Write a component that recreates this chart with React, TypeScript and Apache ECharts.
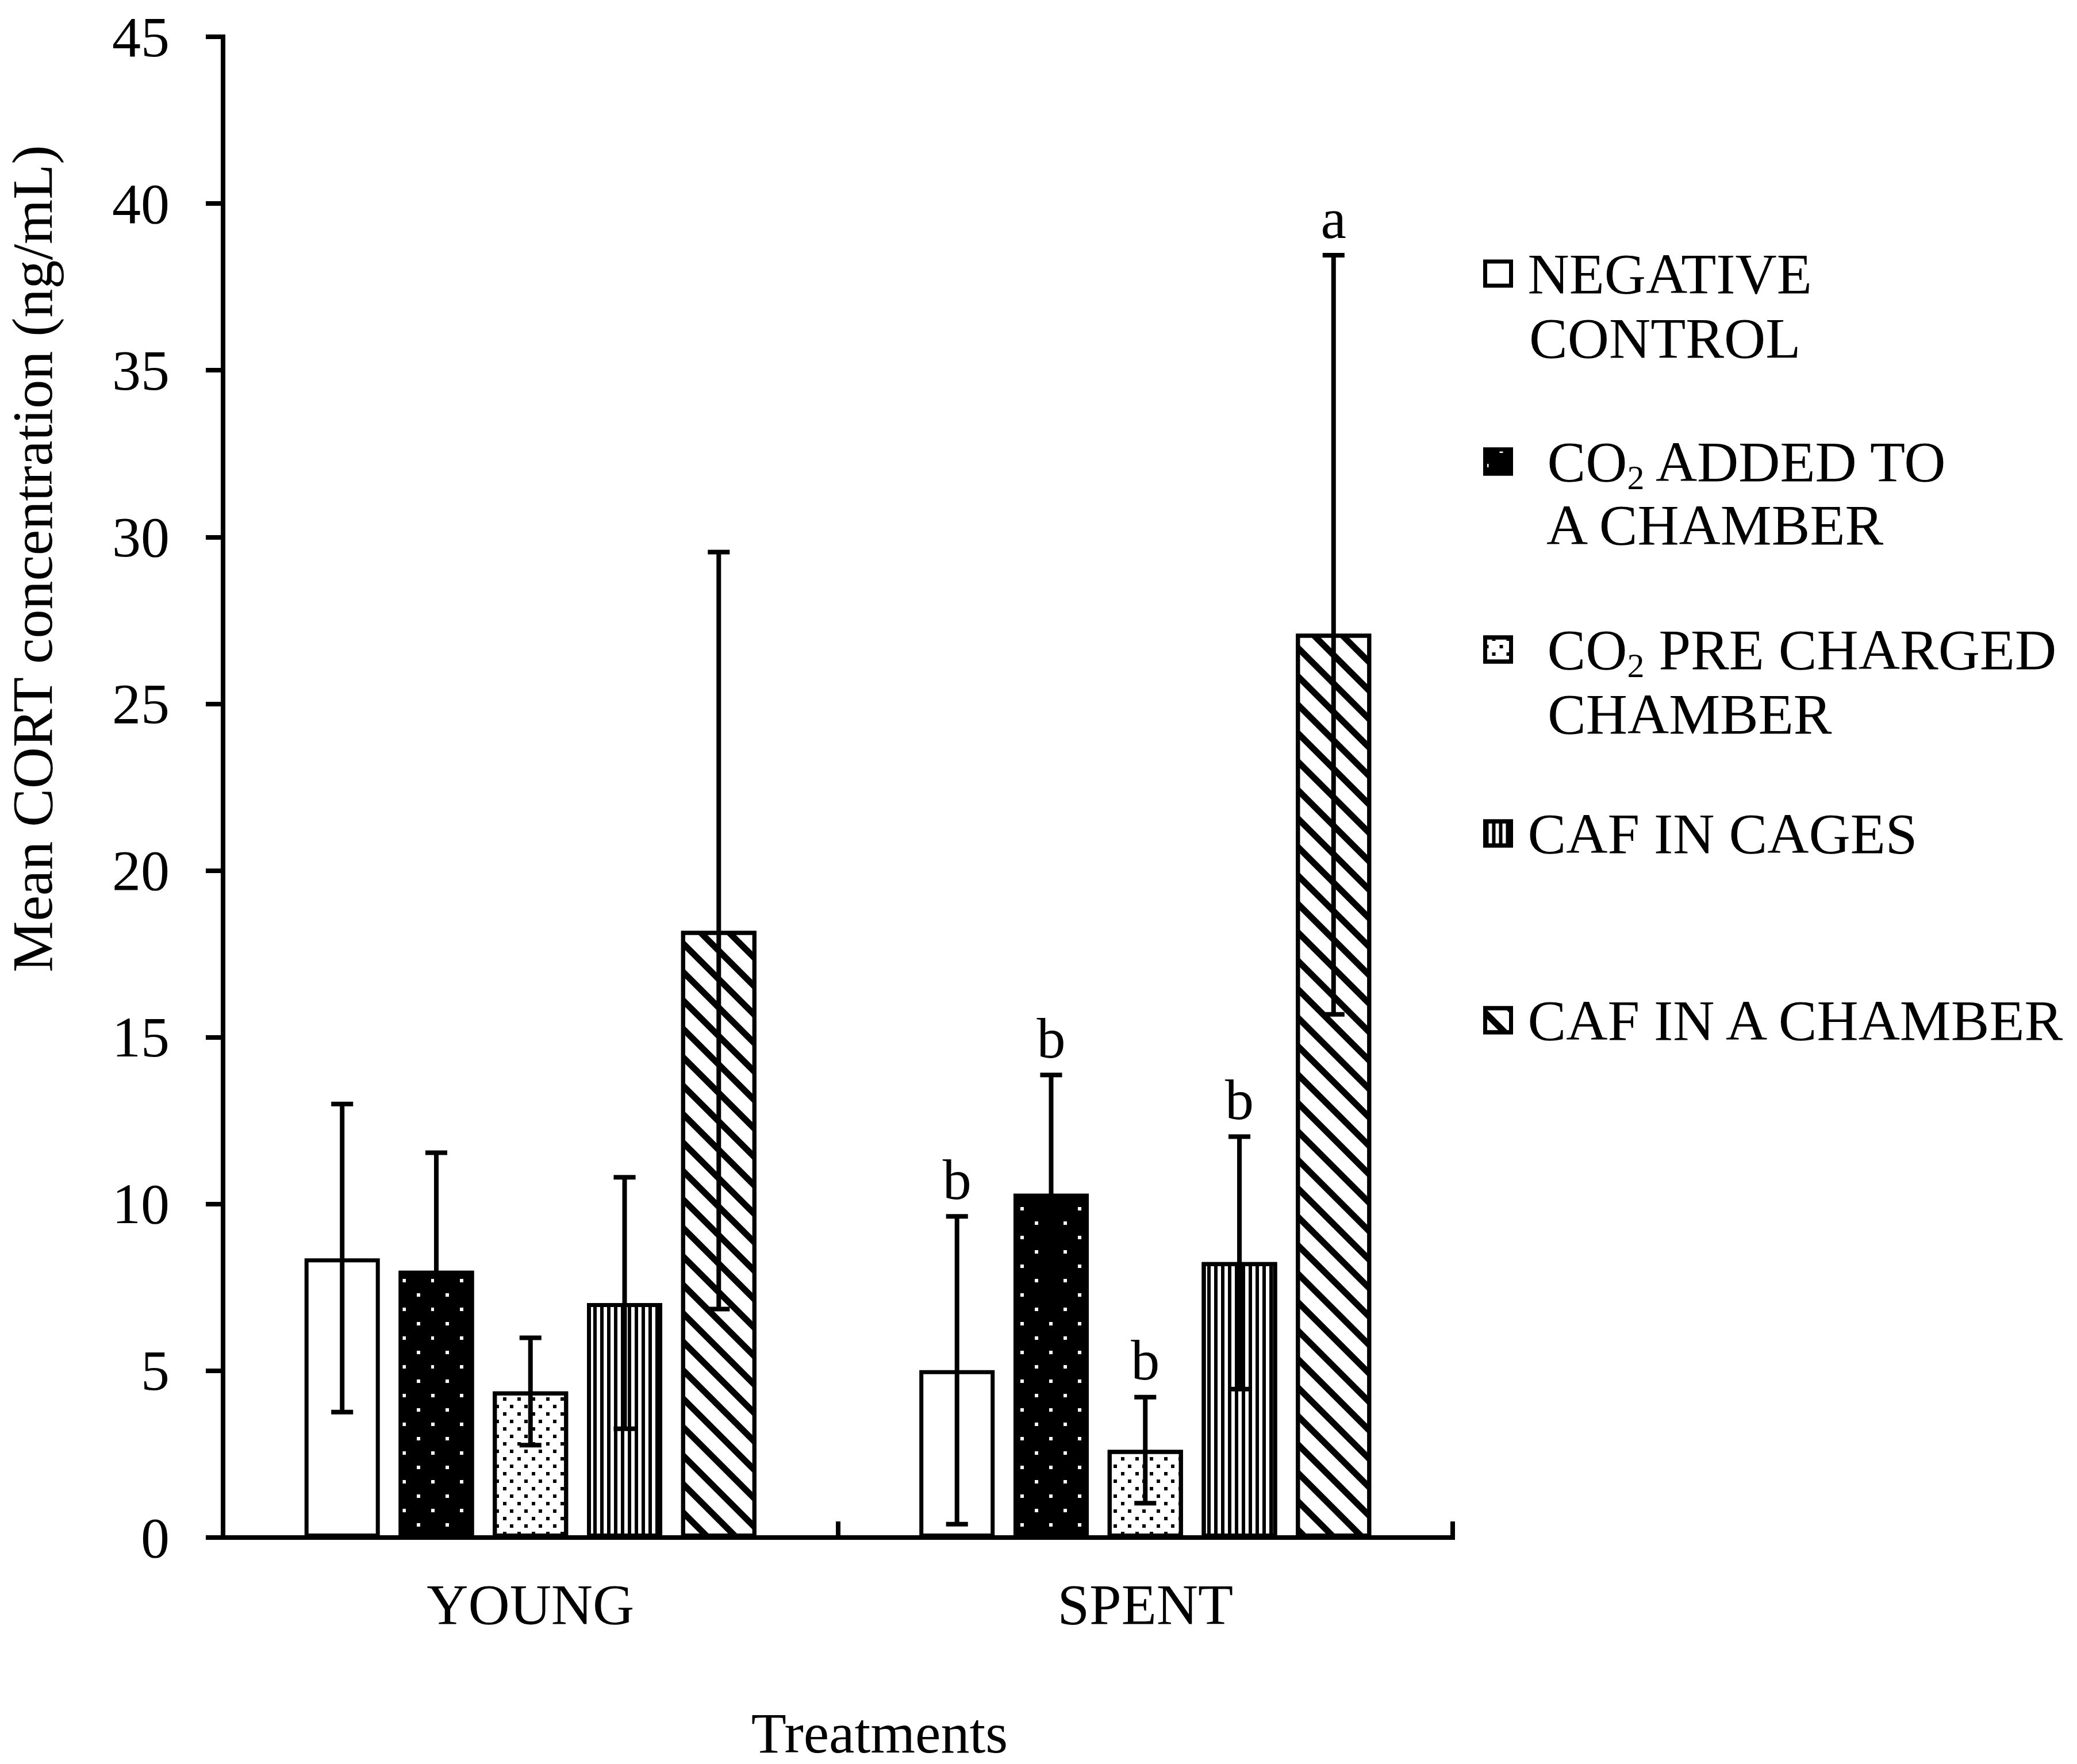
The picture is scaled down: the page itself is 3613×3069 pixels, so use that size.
import React, { useEffect, useRef } from 'react';
import * as echarts from 'echarts';

// ---------- data ----------
const categories = ['YOUNG', 'SPENT'];
const treatments = [
  'NEGATIVE CONTROL',
  'CO2 ADDED TO A CHAMBER',
  'CO2 PRE CHARGED CHAMBER',
  'CAF IN CAGES',
  'CAF IN A CHAMBER',
];
const youngMeans = [8.37, 8.0, 4.38, 7.03, 18.19];
const youngHigh = [13.0, 11.54, 5.99, 10.8, 29.55];
const youngLow = [3.76, 4.46, 2.77, 3.26, 6.85];
const spentMeans = [5.02, 10.31, 2.63, 8.26, 27.1];
const spentHigh = [9.63, 13.87, 4.21, 12.02, 38.45];
const spentLow = [0.4, 6.75, 1.03, 4.45, 15.69];
const youngLetters = ['', '', '', '', ''];
const spentLetters = ['b', 'b', 'b', 'b', 'a'];
const yMin = 0;
const yMax = 45;
const yStep = 5;

const legendLine1 = [
  '{n|NEGATIVE}',
  '{n|CO}{s|2}{n| ADDED TO}',
  '{n|CO}{s|2}{n| PRE CHARGED}',
  '{n|CAF IN CAGES}',
  '{n|CAF IN A CHAMBER}',
];
const legendLine2 = ['CONTROL', 'A CHAMBER', 'CHAMBER', '', ''];

// ---------- style / layout ----------
const FONT = "'Liberation Serif', 'Times New Roman', serif";
const BAR_W = 0.1225; // fraction of band
const BAR_GAP = 0.25; // fraction of bar width
const CAP = 0.0178; // half cap width as fraction of band
const fills = ['#ffffff', '#000000', '#ffffff', '#ffffff', '#ffffff'];
const decals: any[] = [
  undefined,
  {
    symbol: 'rect', symbolSize: 1, symbolKeepAspect: false, color: '#ffffff',
    dashArrayX: [[6, 44], [0, 25, 6, 19]], dashArrayY: [6, 19],
  },
  {
    symbol: 'rect', symbolSize: 1, symbolKeepAspect: false, color: '#000000',
    dashArrayX: [[6, 19], [0, 12, 6, 7]], dashArrayY: [6, 7],
  },
  {
    symbol: 'rect', symbolSize: 1, symbolKeepAspect: false, color: '#000000',
    dashArrayX: [6, 6], dashArrayY: [400, 0],
  },
  {
    symbol: 'rect', symbolSize: 1, symbolKeepAspect: false, color: '#000000',
    dashArrayX: [400, 0], dashArrayY: [11, 24], rotation: Math.PI / 4,
  },
];
const legendCenters = [476, 803, 1130, 1450, 1775];
const legendTextPad = [24, 58, 58, 24, 24];
const line2Pos = [
  [2660, 588],
  [2690, 913],
  [2692, 1242],
];

export default function App() {
  const ref = useRef<HTMLDivElement>(null);
  useEffect(() => {
    if (!ref.current) return;
    const chart = echarts.init(ref.current, undefined, { renderer: 'svg' });

    const barSeries = treatments.map((name, k) => ({
      name,
      type: 'bar',
      barWidth: BAR_W * 100 + '%',
      barGap: BAR_GAP * 100 + '%',
      data: [youngMeans[k], spentMeans[k]],
      itemStyle: {
        color: fills[k],
        borderColor: '#000',
        borderWidth: 7,
        ...(decals[k] ? { decal: decals[k] } : {}),
      },
      emphasis: { disabled: true },
      silent: true,
      z: 2,
    }));

    const errData: number[][] = [];
    const errLetters: string[] = [];
    treatments.forEach((_, k) => {
      errData.push([0, k, youngLow[k], youngHigh[k]]);
      errLetters.push(youngLetters[k]);
      errData.push([1, k, spentLow[k], spentHigh[k]]);
      errLetters.push(spentLetters[k]);
    });

    const errSeries = {
      type: 'custom',
      coordinateSystem: 'cartesian2d',
      z: 5,
      silent: true,
      encode: { x: 0, y: [2, 3] },
      data: errData,
      renderItem: (params: any, api: any) => {
        const c = api.value(0);
        const k = api.value(1);
        const lo = api.value(2);
        const hi = api.value(3);
        const band = api.size([1, 0])[0];
        const step = band * BAR_W * (1 + BAR_GAP);
        const hiPt = api.coord([c, hi]);
        const loPt = api.coord([c, lo]);
        const x = hiPt[0] + (k - 2) * step;
        const half = band * CAP;
        const ls = { stroke: '#000', lineWidth: 8 };
        const children: any[] = [
          { type: 'line', shape: { x1: x, y1: hiPt[1], x2: x, y2: loPt[1] }, style: ls },
          { type: 'line', shape: { x1: x - half, y1: hiPt[1], x2: x + half, y2: hiPt[1] }, style: ls },
          { type: 'line', shape: { x1: x - half, y1: loPt[1], x2: x + half, y2: loPt[1] }, style: ls },
        ];
        const letter = errLetters[params.dataIndex];
        if (letter) {
          children.push({
            type: 'text',
            x,
            y: hiPt[1] - 64,
            style: {
              text: letter, fontSize: 100, fontFamily: FONT, fill: '#000',
              align: 'center', verticalAlign: 'middle',
            },
          });
        }
        return { type: 'group', children };
      },
    };

    const richStyles = {
      n: { fontSize: 100, fontFamily: FONT, color: '#000', lineHeight: 112, verticalAlign: 'middle' },
      s: {
        fontSize: 60, fontFamily: FONT, color: '#000', lineHeight: 112,
        verticalAlign: 'top', padding: [54, 0, 0, 0],
      },
    };

    const legends = treatments.map((name, k) => ({
      data: [name],
      left: 2580,
      top: legendCenters[k] - 56,
      orient: 'vertical',
      padding: 0,
      itemWidth: 45,
      itemHeight: 42,
      icon: 'rect',
      selectedMode: false,
      itemStyle: { borderWidth: 7, borderColor: '#000' },
      formatter: () => legendLine1[k],
      textStyle: {
        color: '#000', fontFamily: FONT, fontSize: 100, lineHeight: 112,
        padding: [0, 0, 0, legendTextPad[k]],
        rich: richStyles,
      },
    }));

    const graphics: any[] = [
      {
        type: 'text', x: 56, y: 972, rotation: Math.PI / 2,
        style: {
          text: 'Mean CORT concentration (ng/mL)', fontSize: 100, fontFamily: FONT,
          fill: '#000', align: 'center', verticalAlign: 'middle',
        },
      },
      {
        type: 'text', x: 1530, y: 3015,
        style: {
          text: 'Treatments', fontSize: 100, fontFamily: FONT,
          fill: '#000', align: 'center', verticalAlign: 'middle',
        },
      },
    ];
    legendLine2.forEach((t, k) => {
      if (!t) return;
      graphics.push({
        type: 'text', x: line2Pos[k][0], y: line2Pos[k][1],
        style: {
          text: t, fontSize: 100, fontFamily: FONT, fill: '#000',
          align: 'left', verticalAlign: 'middle',
        },
      });
    });

    chart.setOption({
      animation: false,
      backgroundColor: '#ffffff',
      textStyle: { fontFamily: FONT },
      grid: { left: 388, right: 1086, top: 64, bottom: 394, containLabel: false },
      legend: legends,
      xAxis: {
        type: 'category',
        data: categories,
        axisLine: { show: true, lineStyle: { color: '#000', width: 8, cap: 'square' } },
        axisTick: { show: true, inside: true, length: 28, lineStyle: { color: '#000', width: 8 } },
        axisLabel: { fontSize: 100, fontFamily: FONT, color: '#000', margin: 66, lineHeight: 100 },
        splitLine: { show: false },
      },
      yAxis: {
        type: 'value',
        min: yMin,
        max: yMax,
        interval: yStep,
        axisLine: { show: true, lineStyle: { color: '#000', width: 8, cap: 'square' } },
        axisTick: { show: true, inside: false, length: 30, lineStyle: { color: '#000', width: 8 } },
        axisLabel: { fontSize: 100, fontFamily: FONT, color: '#000', margin: 93 },
        splitLine: { show: false },
      },
      series: [...barSeries, errSeries],
      graphic: graphics,
    } as any);

    return () => chart.dispose();
  }, []);

  return (
    <div
      ref={ref}
      style={{ position: 'fixed', left: 0, top: 0, width: 3613, height: 3069, background: '#fff' }}
    />
  );
}
